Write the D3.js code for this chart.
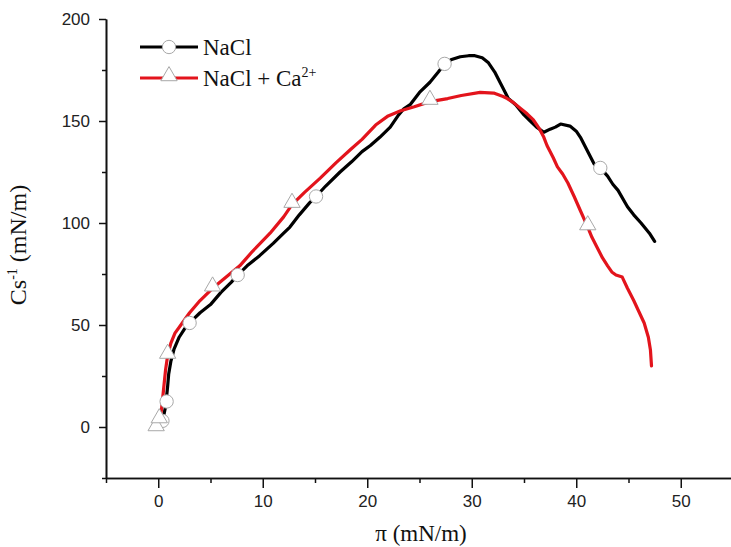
<!DOCTYPE html>
<html>
<head>
<meta charset="utf-8">
<script src="https://cdn.jsdelivr.net/npm/d3@7"></script>
<style>
  html, body { margin: 0; padding: 0; background: #fff; }
  svg { display: block; }
</style>
</head>
<body>
<svg id="chart" width="731" height="547"></svg>
<script>
// ---- Data ----
const seriesNames = ["NaCl", "NaCl + Ca2+"];

// NaCl: surface pressure π (mN/m) and compressibility modulus Cs^-1 (mN/m)
const naclPi = [0.4, 0.5, 0.7, 0.8, 0.9, 1.0, 1.2, 1.5, 2.0, 2.5, 3.0, 4.0, 5.0, 6.0, 7.0, 7.6, 8.5, 9.7, 11.0, 12.0, 12.6, 13.5, 14.5, 15.1, 16.0, 17.4, 18.5, 19.5, 20.3, 21.2, 22.2, 23.0, 23.5, 24.1, 25.0, 26.0, 26.8, 27.4, 28.0, 28.9, 29.7, 30.3, 31.0, 31.6, 32.2, 32.7, 33.5, 34.2, 35.0, 35.6, 36.2, 36.9, 37.5, 38.0, 38.5, 39.4, 40.0, 40.4, 41.0, 41.7, 42.3, 43.0, 43.5, 44.0, 44.9, 45.5, 46.2, 47.0, 47.5];
const naclCs = [1, 5, 10, 15, 20, 26, 32, 38, 44, 48, 51, 56, 60, 66, 71, 74.5, 79, 84, 90, 95, 98, 104, 110, 113, 118, 125, 130, 135, 138, 142, 147, 153, 156, 158, 164, 169, 174, 178, 180, 181.5, 182, 182, 181, 178.5, 174, 169, 161, 158, 153, 150, 147, 144.5, 146, 147, 148.5, 147.5, 145, 142, 136, 129, 127, 123, 119, 116, 108, 104, 100, 95, 91];
const naclMarkPi = [0.4, 0.8, 3.0, 7.6, 15.1, 27.4, 42.3];
const naclMarkCs = [3, 12.5, 51, 74.5, 113, 178, 127];

// NaCl + Ca2+
const caPi = [0.0, 0.1, 0.3, 0.5, 0.7, 0.9, 1.2, 1.6, 2.3, 3.0, 4.0, 5.2, 6.5, 7.8, 9.0, 10.7, 12.0, 12.8, 14.0, 15.5, 17.0, 18.4, 19.5, 20.8, 22.0, 23.2, 24.5, 26.0, 27.7, 29.0, 30.8, 32.1, 33.0, 33.4, 34.0, 34.7, 35.3, 35.9, 36.5, 36.9, 37.2, 37.8, 38.2, 38.7, 39.2, 39.8, 40.4, 41.1, 41.5, 42.0, 42.5, 43.0, 43.4, 43.8, 44.4, 44.9, 45.5, 46.0, 46.5, 46.9, 47.1, 47.2];
const caCs = [0, 3, 8, 18, 28, 35, 41, 46, 51, 56, 62, 68, 73.5, 79, 86, 95, 103, 109, 115, 122, 129.5, 136, 141, 148, 152.5, 155, 157, 159.5, 161, 162.5, 164, 163.7, 162, 161, 159, 156, 153.5, 150.5, 146, 142, 138, 132, 127.5, 124, 119.6, 113, 106, 98, 93, 88, 83, 79, 76, 74.5, 73.5, 68, 62, 56.5, 51, 44, 37.7, 30];
const caMarkPi = [-0.2, 0.1, 0.9, 5.2, 12.8, 26.0, 41.1];
const caMarkCs = [-0.5, 3.4, 35, 68, 109, 159.5, 98];

const xTicks = [0, 10, 20, 30, 40, 50];
const xMinorTicks = [-5, 5, 15, 25, 35, 45];
const yTicks = [0, 50, 100, 150, 200];
const yMinorTicks = [-25, 25, 75, 125, 175];

// ---- Layout ----
const svg = d3.select("#chart");
const x = d3.scaleLinear().domain([-5, 55]).range([106, 733]);
const y = d3.scaleLinear().domain([-25, 200]).range([478, 19]);

const tickFont = "'Liberation Sans', Arial, sans-serif";
const serif = "'Liberation Serif', 'Times New Roman', serif";

// Axes
const xAxis = d3.axisBottom(x).tickValues(xTicks).tickSize(10).tickPadding(7).tickSizeOuter(0).tickFormat(d3.format("d"));
const xMinor = d3.axisBottom(x).tickValues(xMinorTicks).tickSize(5).tickSizeOuter(0).tickFormat("");
const yAxis = d3.axisLeft(y).tickValues(yTicks).tickSize(7).tickPadding(9).tickSizeOuter(0).tickFormat(d3.format("d"));
const yMinor = d3.axisLeft(y).tickValues(yMinorTicks).tickSize(4).tickSizeOuter(0).tickFormat("");

function styleAxis(g) {
  g.selectAll("path.domain").attr("stroke", "#111").attr("stroke-width", 1.6);
  g.selectAll(".tick line").attr("stroke", "#111").attr("stroke-width", 1.5);
  g.selectAll(".tick text").attr("fill", "#222").style("font-family", tickFont).style("font-size", "17px");
}

svg.append("g").attr("transform", `translate(0,${y(-25)})`).call(xMinor).call(styleAxis);
svg.append("g").attr("transform", `translate(0,${y(-25)})`).call(xAxis).call(styleAxis);
svg.append("g").attr("transform", `translate(${x(-5)},0)`).call(yMinor).call(styleAxis);
svg.append("g").attr("transform", `translate(${x(-5)},0)`).call(yAxis).call(styleAxis);

// Axis titles
svg.append("text")
  .attr("x", 421).attr("y", 541)
  .attr("text-anchor", "middle")
  .style("font-family", serif).style("font-size", "23px").attr("fill", "#111")
  .text("π (mN/m)");

const yt = svg.append("text")
  .attr("transform", "translate(26,245) rotate(-90)")
  .attr("text-anchor", "middle")
  .style("font-family", serif).style("font-size", "24px").attr("fill", "#111");
yt.append("tspan").text("Cs");
yt.append("tspan").attr("dy", -9).style("font-size", "14px").text("-1");
yt.append("tspan").attr("dy", 9).text(" (mN/m)");

// Curves
const line = d3.line().x(d => x(d[0])).y(d => y(d[1])).curve(d3.curveLinear);
const naclData = naclPi.map((p, i) => [p, naclCs[i]]);
const caData = caPi.map((p, i) => [p, caCs[i]]);

const black = "#000000";
const red = "#e3141c";

svg.append("path").datum(naclData).attr("d", line)
  .attr("fill", "none").attr("stroke", black).attr("stroke-width", 3.2)
  .attr("stroke-linejoin", "round").attr("stroke-linecap", "round");
svg.append("path").datum(caData).attr("d", line)
  .attr("fill", "none").attr("stroke", red).attr("stroke-width", 3.2)
  .attr("stroke-linejoin", "round").attr("stroke-linecap", "round");

// Markers
const circleSym = d3.symbol().type(d3.symbolCircle).size(140);
const triSym = d3.symbol().type(d3.symbolTriangle).size(115);

svg.append("g").selectAll("path")
  .data(naclMarkPi.map((p, i) => [p, naclMarkCs[i]]))
  .join("path")
  .attr("d", circleSym)
  .attr("transform", d => `translate(${x(d[0])},${y(d[1])})`)
  .attr("fill", "#fff").attr("stroke", "#a8a8a8").attr("stroke-width", 1);

svg.append("g").selectAll("path")
  .data(caMarkPi.map((p, i) => [p, caMarkCs[i]]))
  .join("path")
  .attr("d", triSym)
  .attr("transform", d => `translate(${x(d[0])},${y(d[1]) - 2})`)
  .attr("fill", "#fff").attr("stroke", "#a8a8a8").attr("stroke-width", 1);

// Legend
const legend = svg.append("g");
const legendRows = [
  { name: seriesNames[0], color: black, sym: circleSym, y: 47 },
  { name: seriesNames[1], color: red, sym: triSym, y: 78 }
];
legendRows.forEach((r, i) => {
  legend.append("line").attr("x1", 140).attr("x2", 198).attr("y1", r.y).attr("y2", r.y)
    .attr("stroke", r.color).attr("stroke-width", 3.2);
  legend.append("path").attr("d", r.sym)
    .attr("transform", `translate(169,${r.y - (i === 1 ? 2 : 0)})`)
    .attr("fill", "#fff").attr("stroke", "#a8a8a8").attr("stroke-width", 1);
  const t = legend.append("text").attr("x", 203).attr("y", r.y + 8)
    .style("font-family", serif).style("font-size", "23px").attr("fill", "#111");
  if (i === 0) {
    t.text(r.name);
  } else {
    t.append("tspan").text("NaCl + Ca");
    t.append("tspan").attr("dy", -9).style("font-size", "14px").text("2+");
  }
});
</script>
</body>
</html>
